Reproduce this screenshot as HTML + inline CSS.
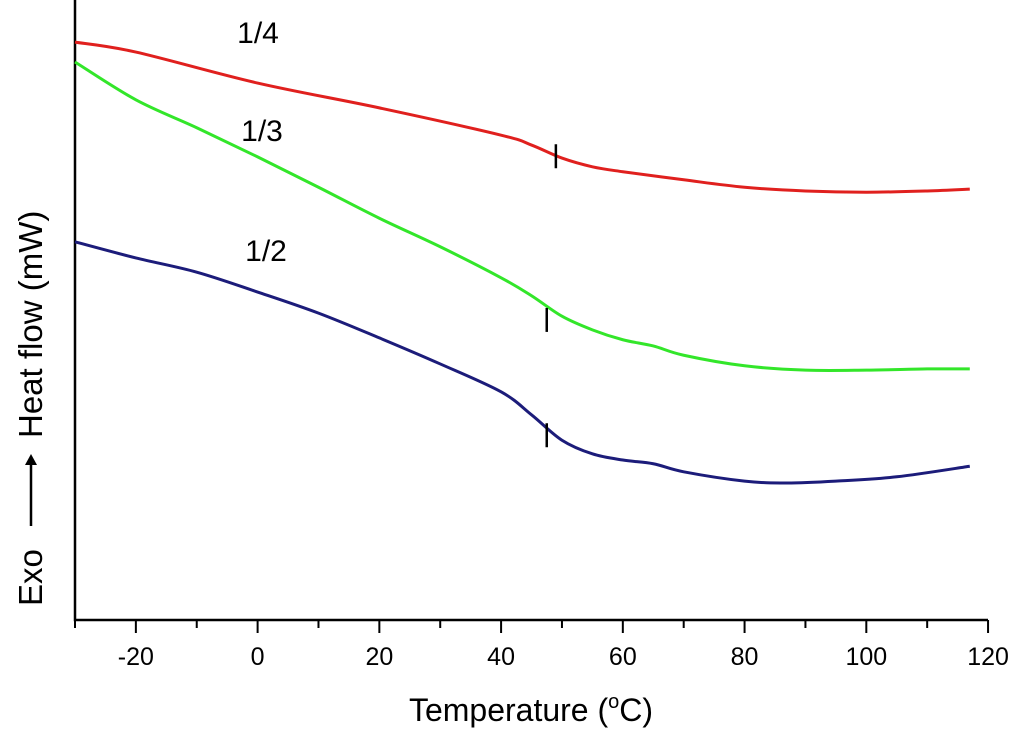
<!DOCTYPE html>
<html><head><meta charset="utf-8"><style>
body{margin:0;background:#fff}svg{display:block;font-family:"Liberation Sans",sans-serif}
</style></head><body>
<svg id="c" width="1024" height="741">
<text x="258" y="43" font-size="30" text-anchor="middle">1/4</text>
<text x="262" y="141" font-size="30" text-anchor="middle">1/3</text>
<text x="266" y="261" font-size="30" text-anchor="middle">1/2</text>
<text x="531" y="721" font-size="32" text-anchor="middle">Temperature (<tspan font-size="20" dy="-13">o</tspan><tspan dy="13">C)</tspan></text>
<g transform="translate(42,606) rotate(-90)">
<text x="0" y="0" font-size="33">Exo</text>
<line x1="80" y1="-11" x2="146" y2="-11" stroke="#000" stroke-width="2.5"/>
<polygon points="152,-11 141,-17 141,-5" fill="#000"/>
<text x="168" y="0" font-size="33">Heat flow (mW)</text>
</g>
</svg>
<script>
const xTicks=[-20,0,20,40,60,80,100,120];
const xMinor=[-30,-10,10,30,50,70,90,110];
const redX=[-30,-20,0,20,40,45,50,55,60,70,80,90,100,110,117];
const redY=[93.2,91.6,86.6,82.6,78.2,76.6,74.5,73.1,72.3,71,69.8,69.2,69,69.2,69.5];
const greenX=[-30,-20,-10,0,10,20,30,40,45,50,55,60,65,70,80,90,100,110,117];
const greenY=[90,83.9,79.4,74.7,69.8,64.8,60.2,55.2,52.3,49,46.8,45.2,44.2,42.7,41,40.3,40.3,40.5,40.5];
const blueX=[-30,-20,-10,0,10,20,30,40,45,50,55,60,65,70,80,87,95,105,117];
const blueY=[61,58.4,56.1,52.9,49.5,45.5,41.3,36.8,33.1,29,26.8,25.8,25.2,23.9,22.4,22.1,22.4,23.1,24.8];
const marks=[{x:49,y:74.8,c:'red'},{x:47.5,y:48.4,c:'green'},{x:47.5,y:29.8,c:'blue'}];
const X=v=>75+(v+30)*6.087, Y=v=>620-v*6.2;
const svg=document.getElementById('c'),NS='http://www.w3.org/2000/svg';
function mk(t,a){const e=document.createElementNS(NS,t);for(const k in a)e.setAttribute(k,a[k]);svg.appendChild(e);return e;}
function smooth(xs,ys){const p=xs.map((x,i)=>[X(x),Y(ys[i])]);let d='M'+p[0];
for(let i=0;i<p.length-1;i++){const a=p[i-1]||p[i],b=p[i],c=p[i+1],e=p[i+2]||c;
d+=` C${b[0]+(c[0]-a[0])/6},${b[1]+(c[1]-a[1])/6} ${c[0]-(e[0]-b[0])/6},${c[1]-(e[1]-b[1])/6} ${c[0]},${c[1]}`;}return d;}
let ax=mk('path',{d:'M75,0V620H988',fill:'none',stroke:'#000','stroke-width':2.5});


xTicks.forEach(t=>{const l=mk('line',{x1:X(t),x2:X(t),y1:620,y2:633,stroke:'#000','stroke-width':2});


const tx=mk('text',{x:X(t),y:665,'font-size':25,'text-anchor':'middle'});tx.textContent=t;

});
xMinor.forEach(t=>{const l=mk('line',{x1:X(t),x2:X(t),y1:620,y2:628,stroke:'#000','stroke-width':2});

});
[[redX,redY,'#e0201e','curve-1-4'],[greenX,greenY,'#33e62a','curve-1-3'],[blueX,blueY,'#1c1c7a','curve-1-2']].forEach(([xs,ys,c,n])=>{
const p=mk('path',{d:smooth(xs,ys),fill:'none',stroke:c,'stroke-width':3,'stroke-linejoin':'round'});

});
marks.forEach(m=>{const l=mk('line',{x1:X(m.x),x2:X(m.x),y1:Y(m.y)-12,y2:Y(m.y)+12,stroke:'#000','stroke-width':2.5});

});
</script>
</body></html>
